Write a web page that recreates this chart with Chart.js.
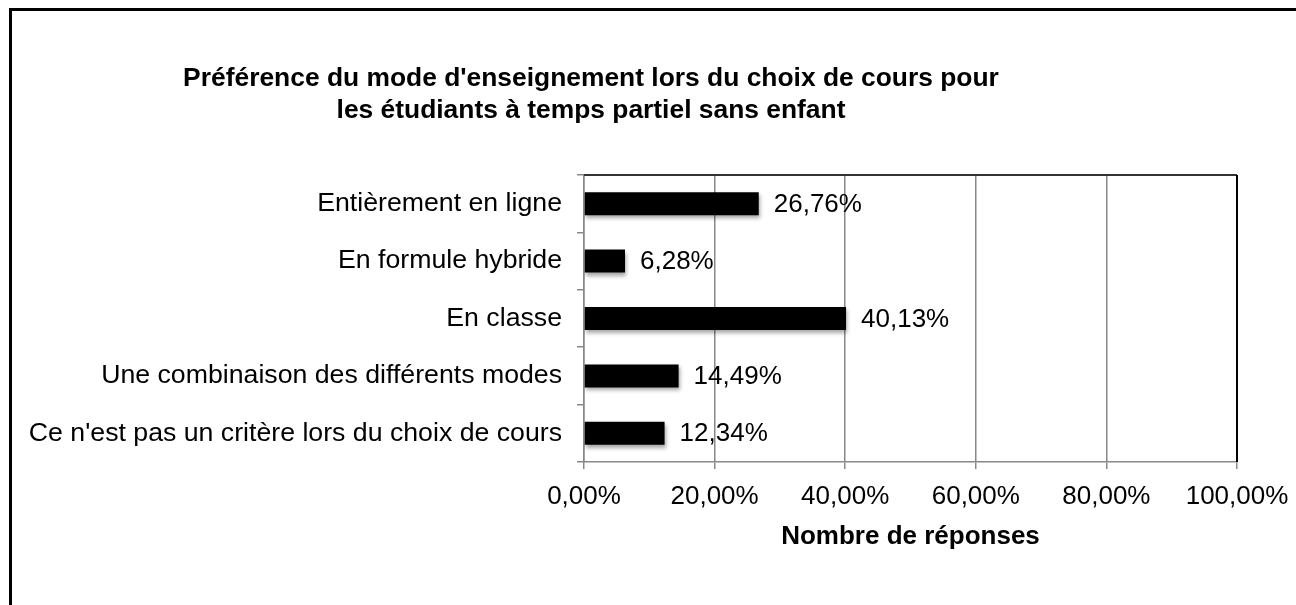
<!DOCTYPE html>
<html>
<head>
<meta charset="utf-8">
<script src="https://cdn.jsdelivr.net/npm/chart.js@4"></script>
<style>
  html, body { margin: 0; padding: 0; background: #fff; overflow: hidden; }
  #cadre { position: absolute; left: 9px; top: 8px; width: 1400px; height: 700px; border: 3px solid #000; }
  #zone { position: absolute; left: 0; top: 0; width: 1296px; height: 605px; }
</style>
</head>
<body>
<div id="cadre"></div>
<div id="zone"><canvas id="graphique"></canvas></div>
<script>
const categories = [
  "Entièrement en ligne",
  "En formule hybride",
  "En classe",
  "Une combinaison des différents modes",
  "Ce n'est pas un critère lors du choix de cours"
];
const valeurs = [26.76, 6.28, 40.13, 14.49, 12.34];
const titreLignes = [
  "Préférence du mode d'enseignement lors du choix de cours pour",
  "les étudiants à temps partiel sans enfant"
];
const titreAxeX = "Nombre de réponses";

const POLICE = "'Liberation Sans', Arial, sans-serif";

function formatoPct(v) {
  return v.toFixed(2).replace(".", ",") + "%";
}

// titre, bordure du cadre, etiquettes des barres
const pluginDessin = {
  id: "dessin",
  beforeDatasetsDraw(chart) {
    const ctx = chart.ctx;
    const a = chart.chartArea;
    ctx.save();
    ctx.strokeStyle = "#333";
    ctx.lineWidth = 2;
    ctx.beginPath();
    ctx.moveTo(a.left, a.top);
    ctx.lineTo(a.right, a.top);
    ctx.stroke();
    ctx.strokeStyle = "#000";
    ctx.beginPath();
    ctx.moveTo(a.right, a.top);
    ctx.lineTo(a.right, a.bottom);
    ctx.stroke();
    ctx.restore();

    ctx.save();
    ctx.shadowColor = "rgba(0,0,0,0.35)";
    ctx.shadowBlur = 4;
    ctx.shadowOffsetX = 1;
    ctx.shadowOffsetY = 3;
  },
  afterDatasetsDraw(chart) {
    const ctx = chart.ctx;
    ctx.restore();
    ctx.save();
    ctx.font = "26px " + POLICE;
    ctx.fillStyle = "#000";
    ctx.textAlign = "left";
    ctx.textBaseline = "middle";
    chart.getDatasetMeta(0).data.forEach(function (bar, i) {
      ctx.fillText(formatoPct(valeurs[i]), bar.x + 15, bar.y + 1);
    });
    ctx.restore();
  },
  afterDraw(chart) {
    const ctx = chart.ctx;
    ctx.save();
    ctx.font = "bold 26.4px " + POLICE;
    ctx.fillStyle = "#000";
    ctx.textAlign = "center";
    ctx.textBaseline = "middle";
    ctx.fillText(titreLignes[0], 591, 79);
    ctx.fillText(titreLignes[1], 591, 111);
    ctx.restore();
  }
};

new Chart(document.getElementById("graphique"), {
  type: "bar",
  data: {
    labels: categories,
    datasets: [
      {
        data: valeurs,
        backgroundColor: "#000",
        borderWidth: 0,
        categoryPercentage: 1,
        barPercentage: 0.4,
      },
    ],
  },
  options: {
    indexAxis: "y",
    responsive: true,
    maintainAspectRatio: false,
    animation: false,
    layout: {
      padding: { top: 175, right: 59, left: 0, bottom: 0 },
    },
    plugins: {
      legend: { display: false },
      title: { display: false },
      tooltip: { enabled: false },
    },
    scales: {
      x: {
        min: 0,
        max: 100,
        afterFit: function (scale) {
          scale.height = 143;
          scale.paddingLeft = 0;
          scale.paddingRight = 0;
        },
        ticks: {
          stepSize: 20,
          padding: 12,
          color: "#000",
          font: { family: POLICE, size: 26 },
          maxRotation: 0,
          callback: function (value) {
            return formatoPct(Number(value));
          },
        },
        grid: { color: "#888", lineWidth: 1.5, tickLength: 7 },
        border: { color: "#888", width: 1.5 },
        title: {
          display: true,
          text: titreAxeX,
          color: "#000",
          font: { family: POLICE, size: 26, weight: "bold" },
          padding: { top: 7, bottom: 53 },
        },
      },
      y: {
        afterFit: function (scale) {
          scale.width = 584;
        },
        ticks: {
          padding: 15,
          color: "#000",
          font: { family: POLICE, size: 26.7 },
        },
        grid: { drawOnChartArea: false, offset: true, color: "#888", lineWidth: 1.5, tickLength: 7 },
        border: { color: "#888", width: 1.5 },
      },
    },
  },
  plugins: [pluginDessin],
});
</script>
</body>
</html>
